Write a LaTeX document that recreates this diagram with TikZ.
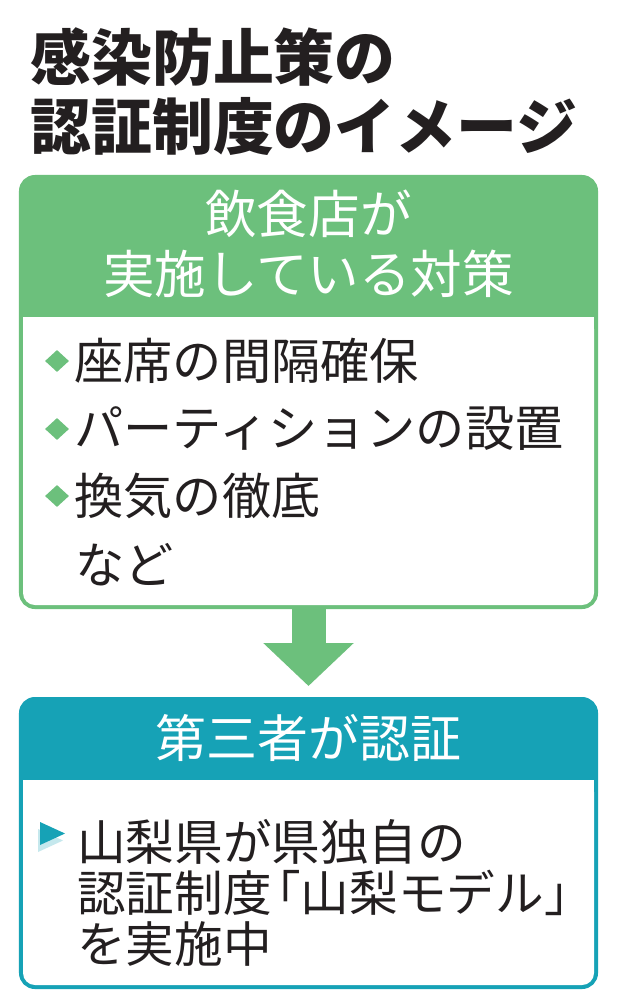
\documentclass[tikz,border=0pt]{standalone}
\usepackage{fontspec}
\setmainfont{Noto Sans CJK JP}
\usepackage{tikz}
\usetikzlibrary{shapes.geometric, arrows.meta, positioning}
\definecolor{shopgreen}{RGB}{108, 192, 124}
\definecolor{thirdteal}{RGB}{22, 162, 182}
\definecolor{inkblack}{RGB}{35, 31, 32}

\begin{document}
\begin{tikzpicture}[
    x=0.03cm, y=-0.03cm,
    box/.style={rectangle, rounded corners=0.42cm, line width=0.12cm, minimum width=17.25cm},
    head/.style={text=white, font=\fontsize{44}{51}\selectfont, align=center, inner sep=0pt},
    item/.style={text=inkblack, font=\fontsize{42}{50}\selectfont, inner sep=0pt, anchor=west},
    dot/.style={diamond, fill=shopgreen, inner sep=0pt, minimum width=0.72cm, minimum height=0.66cm}
]
\useasboundingbox (0,0) rectangle (618,1000);
\fill[white] (0,0) rectangle (618,1000);

% Title
\node[text=inkblack, font=\bfseries\fontsize{52}{59}\selectfont, align=left, inner sep=0pt, anchor=west]
    (title) at (30,91.5) {感染防止策の\\認証制度のイメージ};

% Shop measures box
\node[box, draw=shopgreen, fill=shopgreen, minimum height=12.9cm] (taisaku) at (308.5,392) {};
\fill[white, rounded corners=0.36cm] (23,317) rectangle (594,605);
\fill[white] (23,317) rectangle (594,345);
\node[head] (taisakuhead) at (308.5,244) {飲食店が\\実施している対策};

\node[dot] (dot1) at (57,361) {};
\node[item, right=0.15cm of dot1] (seat) {座席の間隔確保};
\node[dot] (dot2) at (57,429) {};
\node[item, right=0.15cm of dot2] (partition) {パーティションの設置};
\node[dot] (dot3) at (57,496) {};
\node[item, right=0.15cm of dot3] (vent) {換気の徹底};
\node[item] (etc) at (75,565) {など};

% Third party box
\node[box, draw=thirdteal, fill=thirdteal, minimum height=8.64cm] (ninsho) at (308.5,843) {};
\fill[white, rounded corners=0.36cm] (23,780) rectangle (594,985);
\fill[white] (23,780) rectangle (594,805);
\node[head, font=\fontsize{43.5}{51}\selectfont] (ninshohead) at (308.5,738) {第三者が認証};

\fill[thirdteal!25] (38,829) -- (63,840.5) -- (38,852) -- cycle;
\fill[thirdteal] (40,822) -- (65,833.5) -- (40,845) -- cycle;
\node[item, align=left, font=\fontsize{41.5}{43.5}\selectfont]
    (yamanashi) at (77,893) {山梨県が県独自の\\認証制度\kern-0.4em「山梨モデル」\kern-0.4em\\を実施中};

% Arrow
\draw[-{Triangle[width=2.64cm, length=1.29cm]}, shopgreen, line width=1.02cm]
    (taisaku.south) -- ([yshift=0.33cm]ninsho.north);

\end{tikzpicture}
\end{document}
